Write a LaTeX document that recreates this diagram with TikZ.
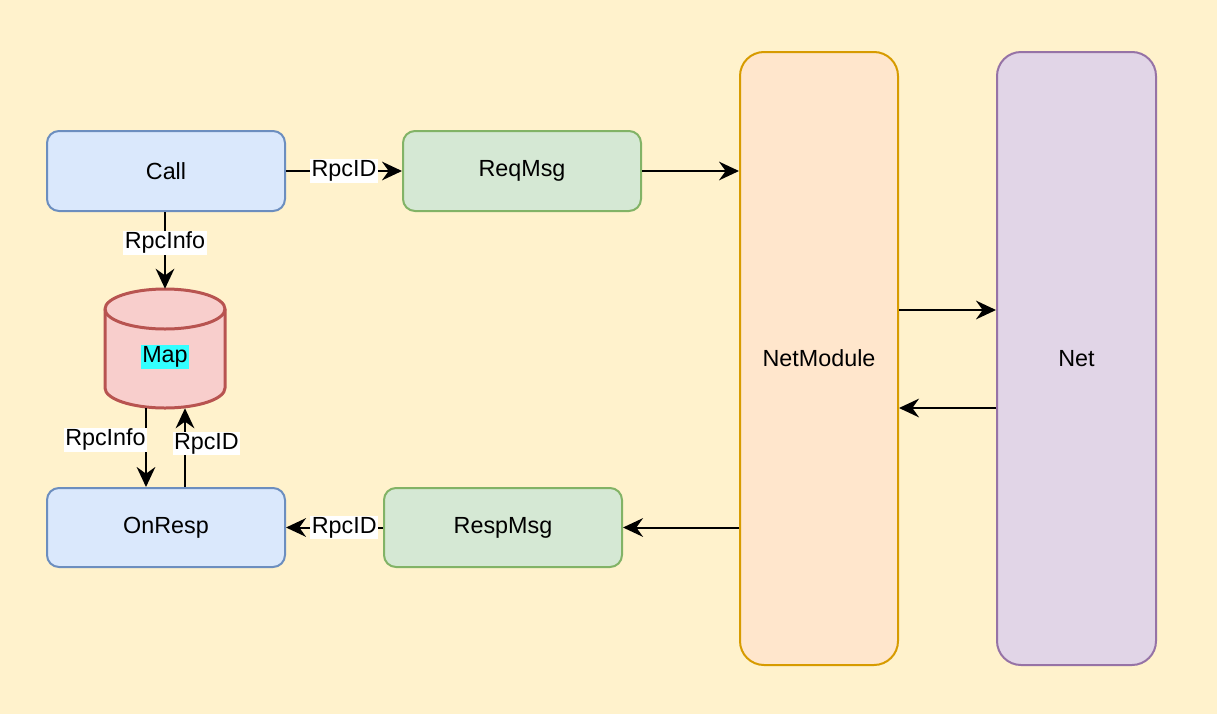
\documentclass[tikz,border=0pt]{standalone}
\usepackage{fontspec}
\setmainfont{Liberation Sans}
\usetikzlibrary{arrows.meta,calc}
\definecolor{bg}{HTML}{FFF2CC}
\definecolor{bluef}{HTML}{DAE8FC}\definecolor{blues}{HTML}{6C8EBF}
\definecolor{greenf}{HTML}{D5E8D4}\definecolor{greens}{HTML}{82B366}
\definecolor{redf}{HTML}{F8CECC}\definecolor{reds}{HTML}{B85450}
\definecolor{orangef}{HTML}{FFE6CC}\definecolor{oranges}{HTML}{D79B00}
\definecolor{purplef}{HTML}{E1D5E7}\definecolor{purples}{HTML}{9673A6}
\definecolor{hl}{HTML}{33FFFF}
\tikzset{
  txt/.style={font=\fontsize{17.5pt}{20pt}\selectfont},
  box/.style={txt, rounded corners=9pt, line width=1.5pt, minimum width=178.5pt, minimum height=60pt, inner sep=0pt},
  bluebox/.style={box, fill=bluef, draw=blues},
  greenbox/.style={box, fill=greenf, draw=greens},
  tallbox/.style={box, rounded corners=18pt, minimum width=118.5pt, minimum height=459.75pt},
  arr/.style={line width=1.5pt, -{Stealth[length=15pt,width=14pt,inset=5pt]}},
  lbl/.style={txt, fill=white, inner sep=1pt}
}
\begin{document}
\begin{tikzpicture}[x=0.75pt,y=-0.75pt]
\fill[bg] (0,0) rectangle (1217,714);
\useasboundingbox (0,0) rectangle (1217,714);
% nodes
\node[bluebox] (call) at (166,171) {Call};
\node[greenbox] (req) at (522,171) {ReqMsg};
\node[bluebox, minimum height=59.25pt] (onresp) at (166,527.5) {OnResp};
\node[greenbox, minimum height=59.25pt] (resp) at (503,527.5) {RespMsg};
\node[tallbox, fill=orangef, draw=oranges] (netmod) at (819,358.5) {NetModule};
\node[tallbox, fill=purplef, draw=purples, minimum width=119.25pt] (net) at (1076.5,358.5) {Net};
% cylinder
\draw[line width=2.25pt, draw=reds, fill=redf] (105,309) -- (105,388) arc[start angle=180,end angle=360,x radius=60,y radius=-20] -- (225,309) arc[start angle=0,end angle=180,x radius=60,y radius=-20] -- cycle;
\draw[line width=2.25pt, draw=reds] (105,309) arc[start angle=180,end angle=360,x radius=60,y radius=-20];
\node[minimum width=90pt, minimum height=89.25pt, inner sep=0pt] (map) at (165,348.5) {};
\node[txt, fill=hl, inner sep=1pt] (maplbl) at (165,357) {Map};
% edges
\draw[arr] (call) -- node[lbl] {RpcID} (req);
\draw[arr] (req.east) -- (req.east -| netmod.west);
\draw[arr] ([xshift=-0.75pt]call.south) -- node[lbl, pos=0.4] {RpcInfo} (map.north);
\draw[arr] ([xshift=-14.25pt]map.south) -- node[lbl, pos=0.4, anchor=east, xshift=1.5pt] {RpcInfo} ([xshift=-15pt]onresp.north);
\draw[arr] ([xshift=14.25pt]onresp.north) -- node[lbl, pos=0.55, anchor=west, xshift=-10pt] {RpcID} ([xshift=15pt]map.south);
\coordinate (a1) at (819,310);
\coordinate (a2) at (819,408);
\draw[arr] (a1 -| netmod.east) -- (a1 -| net.west);
\draw[arr] (a2 -| net.west) -- (a2 -| netmod.east);
\draw[arr] (resp.east -| netmod.west) -- (resp.east);
\draw[arr] (resp) -- node[lbl, pos=0.4] {RpcID} (onresp);
\end{tikzpicture}
\end{document}
